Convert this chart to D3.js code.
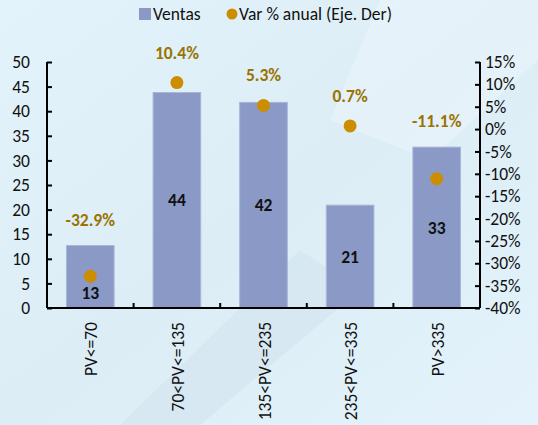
<!DOCTYPE html>
<html>
<head>
<meta charset="utf-8">
<script src="https://cdn.jsdelivr.net/npm/d3@7"></script>
<style>
  html, body { margin: 0; padding: 0; }
  body { width: 538px; height: 425px; overflow: hidden; font-family: Carlito, Calibri, Lato, "Open Sans", sans-serif; }
</style>
</head>
<body>
<div id="chart"></div>
<script>
// data
const categories = ["PV<=70", "70<PV<=135", "135<PV<=235", "235<PV<=335", "PV>335"];
const ventas = [12.7, 43.8, 41.8, 20.9, 32.7];
const varAnual = [-32.9, 10.4, 5.3, 0.7, -11.1];
const leftTicks = [0, 5, 10, 15, 20, 25, 30, 35, 40, 45, 50];
const rightTicks = [-40, -35, -30, -25, -20, -15, -10, -5, 0, 5, 10, 15];

const W = 538, H = 425;
const margin = {top: 62, right: 58, bottom: 117, left: 47};
const width = W - margin.left - margin.right;
const height = H - margin.top - margin.bottom;

const barColor = "#8a99c5";
const dotColor = "#cc8e00";
const labelColor = "#9a7300";
const fs = 17.5;

// plain hyphen for negative numbers, as in the original
const loc = d3.formatLocale({decimal: ".", thousands: ",", grouping: [3], currency: ["", ""], minus: "-"});
const fmt1 = loc.format(".1f");

const svg = d3.select("#chart").append("svg")
    .attr("width", W)
    .attr("height", H);

// background
const defs = svg.append("defs");
const grad = defs.append("linearGradient")
    .attr("id", "bg").attr("x1", 0).attr("y1", 0).attr("x2", 1).attr("y2", 1);
grad.append("stop").attr("offset", "0%").attr("stop-color", "#e3f3fb");
grad.append("stop").attr("offset", "50%").attr("stop-color", "#dcedf6");
grad.append("stop").attr("offset", "100%").attr("stop-color", "#e4f3fb");
svg.append("rect").attr("width", W).attr("height", H).attr("fill", "url(#bg)");
// faint watermark bands
svg.append("path")
    .attr("d", "M120,425 L300,250 L360,290 L200,425 Z")
    .attr("fill", "#cfe0ea").attr("opacity", 0.45);
svg.append("path")
    .attr("d", "M380,0 L538,0 L538,60 L430,160 L330,120 Z")
    .attr("fill", "#ffffff").attr("opacity", 0.25);

const g = svg.append("g")
    .attr("transform", "translate(" + margin.left + "," + margin.top + ")");

const x = d3.scaleBand()
    .domain(categories)
    .range([0, width])
    .paddingInner(0.45)
    .paddingOuter(0.225);

const yL = d3.scaleLinear().domain([0, 50]).range([height, 0]);
const yR = d3.scaleLinear().domain([-40, 15]).range([height, 0]);

// bars
g.selectAll(".bar")
    .data(ventas)
    .enter()
    .append("rect")
    .attr("x", (d, i) => x(categories[i]))
    .attr("y", d => yL(d))
    .attr("width", x.bandwidth())
    .attr("height", d => height - yL(d))
    .attr("fill", barColor)
    .attr("stroke", "#a9b6d8")
    .attr("stroke-width", 1);

// bar value labels
g.selectAll(".barlabel")
    .data(ventas)
    .enter()
    .append("text")
    .attr("x", (d, i) => x(categories[i]) + x.bandwidth() / 2)
    .attr("y", (d, i) => {
        const mid = (yL(d) + height) / 2;
        const dot = yR(varAnual[i]);
        return Math.abs(mid - dot) < 14 ? dot + 23 : mid + 6;
    })
    .attr("text-anchor", "middle")
    .attr("font-size", fs)
    .attr("font-weight", "bold")
    .attr("fill", "#111")
    .text(d => d3.format(".0f")(d));

// axes
const axisL = g.append("g")
    .call(d3.axisLeft(yL).tickValues(leftTicks).tickSize(-5).tickPadding(17));
const axisR = g.append("g")
    .attr("transform", "translate(" + width + ",0)")
    .call(d3.axisRight(yR).tickValues(rightTicks).tickSize(-5).tickPadding(5)
        .tickFormat(d => d + "%"));
const xBounds = d3.range(categories.length + 1).map(i => i * width / categories.length);
const axisX = g.append("g")
    .attr("transform", "translate(0," + height + ")");
axisX.append("line")
    .attr("x1", 0).attr("x2", width)
    .attr("stroke", "#000").attr("stroke-width", 2);
axisX.selectAll(".xtick")
    .data(xBounds.slice(1, -1))
    .enter()
    .append("line")
    .attr("x1", d => d).attr("x2", d => d)
    .attr("y1", 0).attr("y2", -5)
    .attr("stroke", "#000").attr("stroke-width", 2);
axisX.selectAll(".xlabel")
    .data(categories)
    .enter()
    .append("text")
    .attr("transform", d => "translate(" + (x(d) + x.bandwidth() / 2 + 7) + ",14) rotate(-90)")
    .attr("text-anchor", "end")
    .attr("font-size", fs)
    .attr("fill", "#111")
    .text(d => d);

[axisL, axisR].forEach(a => {
    a.select(".domain").attr("stroke", "#000").attr("stroke-width", 2);
    a.selectAll(".tick line").attr("stroke", "#000").attr("stroke-width", 2);
    a.selectAll(".tick text")
        .style("font-family", "Carlito, Calibri, Lato, 'Open Sans', sans-serif")
        .attr("font-size", fs)
        .attr("fill", "#111");
});
axisL.select(".domain").attr("d", "M0," + height + "V0");
axisR.select(".domain").attr("d", "M0," + height + "V0");

// dots
g.selectAll(".dot")
    .data(varAnual)
    .enter()
    .append("circle")
    .attr("cx", (d, i) => x(categories[i]) + x.bandwidth() / 2)
    .attr("cy", d => yR(d))
    .attr("r", 6.5)
    .attr("fill", dotColor);

// dot labels
g.selectAll(".dotlabel")
    .data(varAnual)
    .enter()
    .append("text")
    .attr("x", (d, i) => x(categories[i]) + x.bandwidth() / 2)
    .attr("y", (d, i) => Math.min(yR(d) - 24, yL(ventas[i]) - 20))
    .attr("text-anchor", "middle")
    .attr("font-size", fs)
    .attr("font-weight", "bold")
    .attr("fill", labelColor)
    .text(d => fmt1(d) + "%");

// legend
const legend = svg.append("g").attr("transform", "translate(139,0)");
legend.append("rect")
    .attr("x", 0).attr("y", 8).attr("width", 12).attr("height", 12)
    .attr("fill", barColor);
legend.append("text")
    .attr("x", 14).attr("y", 20)
    .attr("font-size", fs).attr("fill", "#111")
    .text("Ventas");
legend.append("circle")
    .attr("cx", 93).attr("cy", 14).attr("r", 5.5)
    .attr("fill", dotColor);
legend.append("text")
    .attr("x", 100).attr("y", 20)
    .attr("font-size", fs).attr("fill", "#111")
    .text("Var % anual (Eje. Der)");
</script>
</body>
</html>
